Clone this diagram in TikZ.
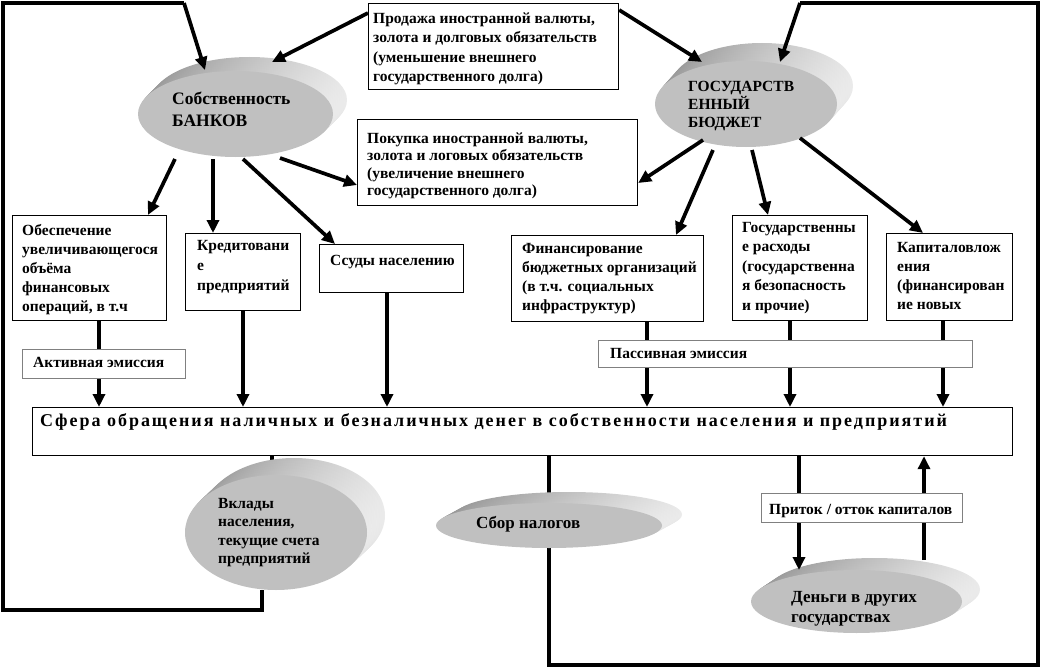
\documentclass[tikz,border=0pt]{standalone}
\usepackage{fontspec}
\setmainfont{Liberation Serif}
\usetikzlibrary{shapes.geometric,arrows.meta,calc}
\pgfdeclarelayer{background}
\pgfsetlayers{background,main}
\definecolor{facegray}{RGB}{192,192,192}
\definecolor{sidedark}{RGB}{150,150,150}
\definecolor{sidelight}{RGB}{235,235,235}
\definecolor{lblgray}{RGB}{128,128,128}
\newcommand\fs[2]{\fontsize{#1}{#2}\selectfont}
\newcommand\disc[7]{%
  \foreach \t in {1,0.85,0.7,0.55,0.4,0.25,0.1}{%
    \path[left color=sidedark,right color=sidelight] ($(#2,#3)+\t*(#6,#7)$) ellipse [x radius=#4, y radius=#5];}
  \node[face, minimum width=2*#4, minimum height=2*#5] (#1) at (#2,#3) {};
}
\begin{document}
\begin{tikzpicture}[x=1pt,y=-1pt,
  every node/.style={font=\bfseries\fs{15.5}{18.5}},
  box/.style={draw,line width=1.2pt,fill=white,inner sep=0pt,anchor=north west},
  lbl/.style={draw=lblgray,line width=0.8pt,fill=white,inner sep=0pt,anchor=north west},
  txt/.style={inner sep=0pt,anchor=base west,align=left},
  face/.style={ellipse,fill=facegray,inner sep=0pt,draw=none},
  arr/.style={line width=3.7pt,-{Triangle[length=13pt,width=12pt]}},
  link/.style={line width=3.7pt,line join=miter},
]
\useasboundingbox (0,0) rectangle (1042,669);

% ellipses
\disc{bank}{235.5}{114}{97.5}{43}{14}{-14}
\disc{gos}{746}{104}{91}{43}{16}{-18}
\disc{vklad}{276}{532.5}{91}{57.5}{18}{-17}
\disc{nalog}{549}{525.5}{113}{22.5}{20}{-11}
\disc{dengi}{856.5}{601.5}{105.5}{31.5}{18}{-12}

% boxes
\node[box,minimum width=250,minimum height=86] (prod) at (368,3) {};
\node[box,minimum width=280,minimum height=86] (pok) at (357,119) {};
\node[box,minimum width=154,minimum height=105] (obesp) at (12,215) {};
\node[box,minimum width=115,minimum height=77] (kred) at (185,233) {};
\node[box,minimum width=144,minimum height=48] (ssud) at (319,244) {};
\node[box,minimum width=192,minimum height=86] (fin) at (511,235) {};
\node[box,minimum width=135,minimum height=105] (gras) at (732,215) {};
\node[box,minimum width=126,minimum height=87] (kap) at (886,233) {};
\node[box,minimum width=980,minimum height=48] (sfera) at (32,407) {};

% loops (background)
\coordinate (a1) at (262,610);
\coordinate (a2) at (3,610);
\coordinate (a3) at (3,3);
\coordinate (a4) at (184,3);
\coordinate (b1) at (549,665);
\coordinate (b2) at (1038,665);
\coordinate (b3) at (1038,3);
\coordinate (b4) at (800,3);
\begin{pgfonlayer}{background}
  \draw[link] (sfera.south -| 272,0) -- (vklad.north -| 272,0);
  \draw[link] (vklad.south -| a1) -- (a1) -- (a2) -- (a3) -- (a4);
  \draw[link] (sfera.south -| b1) -- (b1) -- (b2) -- (b3) -- (b4);
\end{pgfonlayer}
\draw[arr] (a4) -- (205,70);
\draw[arr] (b4) -- (780,62);

% arrows from top boxes
\draw[arr] (prod.north west |- 0,13) -- (272,62);
\draw[arr] (prod.north east |- 0,10) -- (702,62);
% arrows from bank
\draw[arr] (175,159) -- (obesp.north east -| 148,0);
\draw[arr] (213,159) -- (kred.north -| 213,0);
\draw[arr] (243,159) -- (ssud.north west -| 335,0);
\draw[arr] (280,158) -- (pok.west |- 0,185);
% arrows from gos
\draw[arr] (703,140) -- (pok.east |- 0,183);
\draw[arr] (713,150) -- (fin.north -| 676,0);
\draw[arr] (752,150) -- (gras.north -| 768,0);
\draw[arr] (800,138) -- (kap.north -| 923,0);
% arrows into sfera
\draw[arr] (obesp.south -| 99,0) -- (sfera.north -| 99,0);
\draw[arr] (kred.south -| 243,0) -- (sfera.north -| 243,0);
\draw[arr] (ssud.south -| 387,0) -- (sfera.north -| 387,0);
\draw[arr] (fin.south -| 647,0) -- (sfera.north -| 647,0);
\draw[arr] (gras.south -| 790,0) -- (sfera.north -| 790,0);
\draw[arr] (kap.south -| 943,0) -- (sfera.north -| 943,0);
\draw[arr] (sfera.south -| 799,0) -- (799,570);
\draw[arr] (924,560) -- (sfera.south -| 924,0);

% label boxes
\node[lbl,minimum width=163,minimum height=29] (akt) at (22,349) {};
\node[lbl,minimum width=374,minimum height=27] (pas) at (598,340) {};
\node[lbl,minimum width=201,minimum height=29] (prit) at (761,493) {};

% texts (anchor = baseline of last line)
\node[txt,font=\bfseries\fs{15.5}{19.5}] (prodT) at (373,81.5) {Продажа иностранной валюты,\\золота и долговых обязательств\\(уменьшение  внешнего\\государственного долга)};
\node[txt,font=\bfseries\fs{15.5}{17.5}] (pokT) at (367,195.5) {Покупка  иностранной валюты,\\золота и логовых обязательств\\(увеличение внешнего\\государственного долга)};
\node[txt,font=\bfseries\fs{17.5}{21}] (bankT) at (172,126) {Собственность\\БАНКОВ};
\node[txt,font=\bfseries\fs{15.5}{18}] (gosT) at (688,128) {ГОСУДАРСТВ\\ЕННЫЙ\\БЮДЖЕТ};
\node[txt,font=\bfseries\fs{15.5}{19}] (obT) at (22,311) {Обеспечение\\увеличивающегося\\объёма\\финансовых\\операций, в т.ч};
\node[txt,font=\bfseries\fs{15.5}{20}] (kredT) at (197,290) {Кредитовани\\е\\предприятий};
\node[txt] (ssT) at (330,265) {Ссуды населению};
\node[txt,font=\bfseries\fs{15.5}{19}] (finT) at (522,310) {Финансирование\\бюджетных организаций\\(в т.ч. социальных\\инфраструктур)};
\node[txt,font=\bfseries\fs{15.5}{19.5}] (grT) at (742,310) {Государственны\\е расходы\\(государственна\\я безопасность\\и прочие)};
\node[txt,font=\bfseries\fs{15.5}{19}] (kapT) at (897,309) {Капиталовлож\\ения\\(финансирован\\ие новых};
\node[txt] (aktT) at (33,367) {Активная эмиссия};
\node[txt] (pasT) at (610,358) {Пассивная эмиссия};
\node[txt] (pritT) at (769,514) {Приток / отток капиталов};
\node[txt,font=\bfseries\fs{18}{20}\addfontfeature{LetterSpace=11}] (sferaT) at (40,426) {Сфера обращения наличных и безналичных денег в собственности населения и предприятий};
\node[txt,font=\bfseries\fs{15.5}{18.5}] (vkT) at (218,563.5) {Вклады\\населения,\\текущие  счета\\предприятий};
\node[txt,font=\bfseries\fs{17}{20}] (nalT) at (476,528) {Сбор налогов};
\node[txt,font=\bfseries\fs{17}{20}] (denT) at (791,622) {Деньги в других\\государствах};
\end{tikzpicture}
\end{document}
